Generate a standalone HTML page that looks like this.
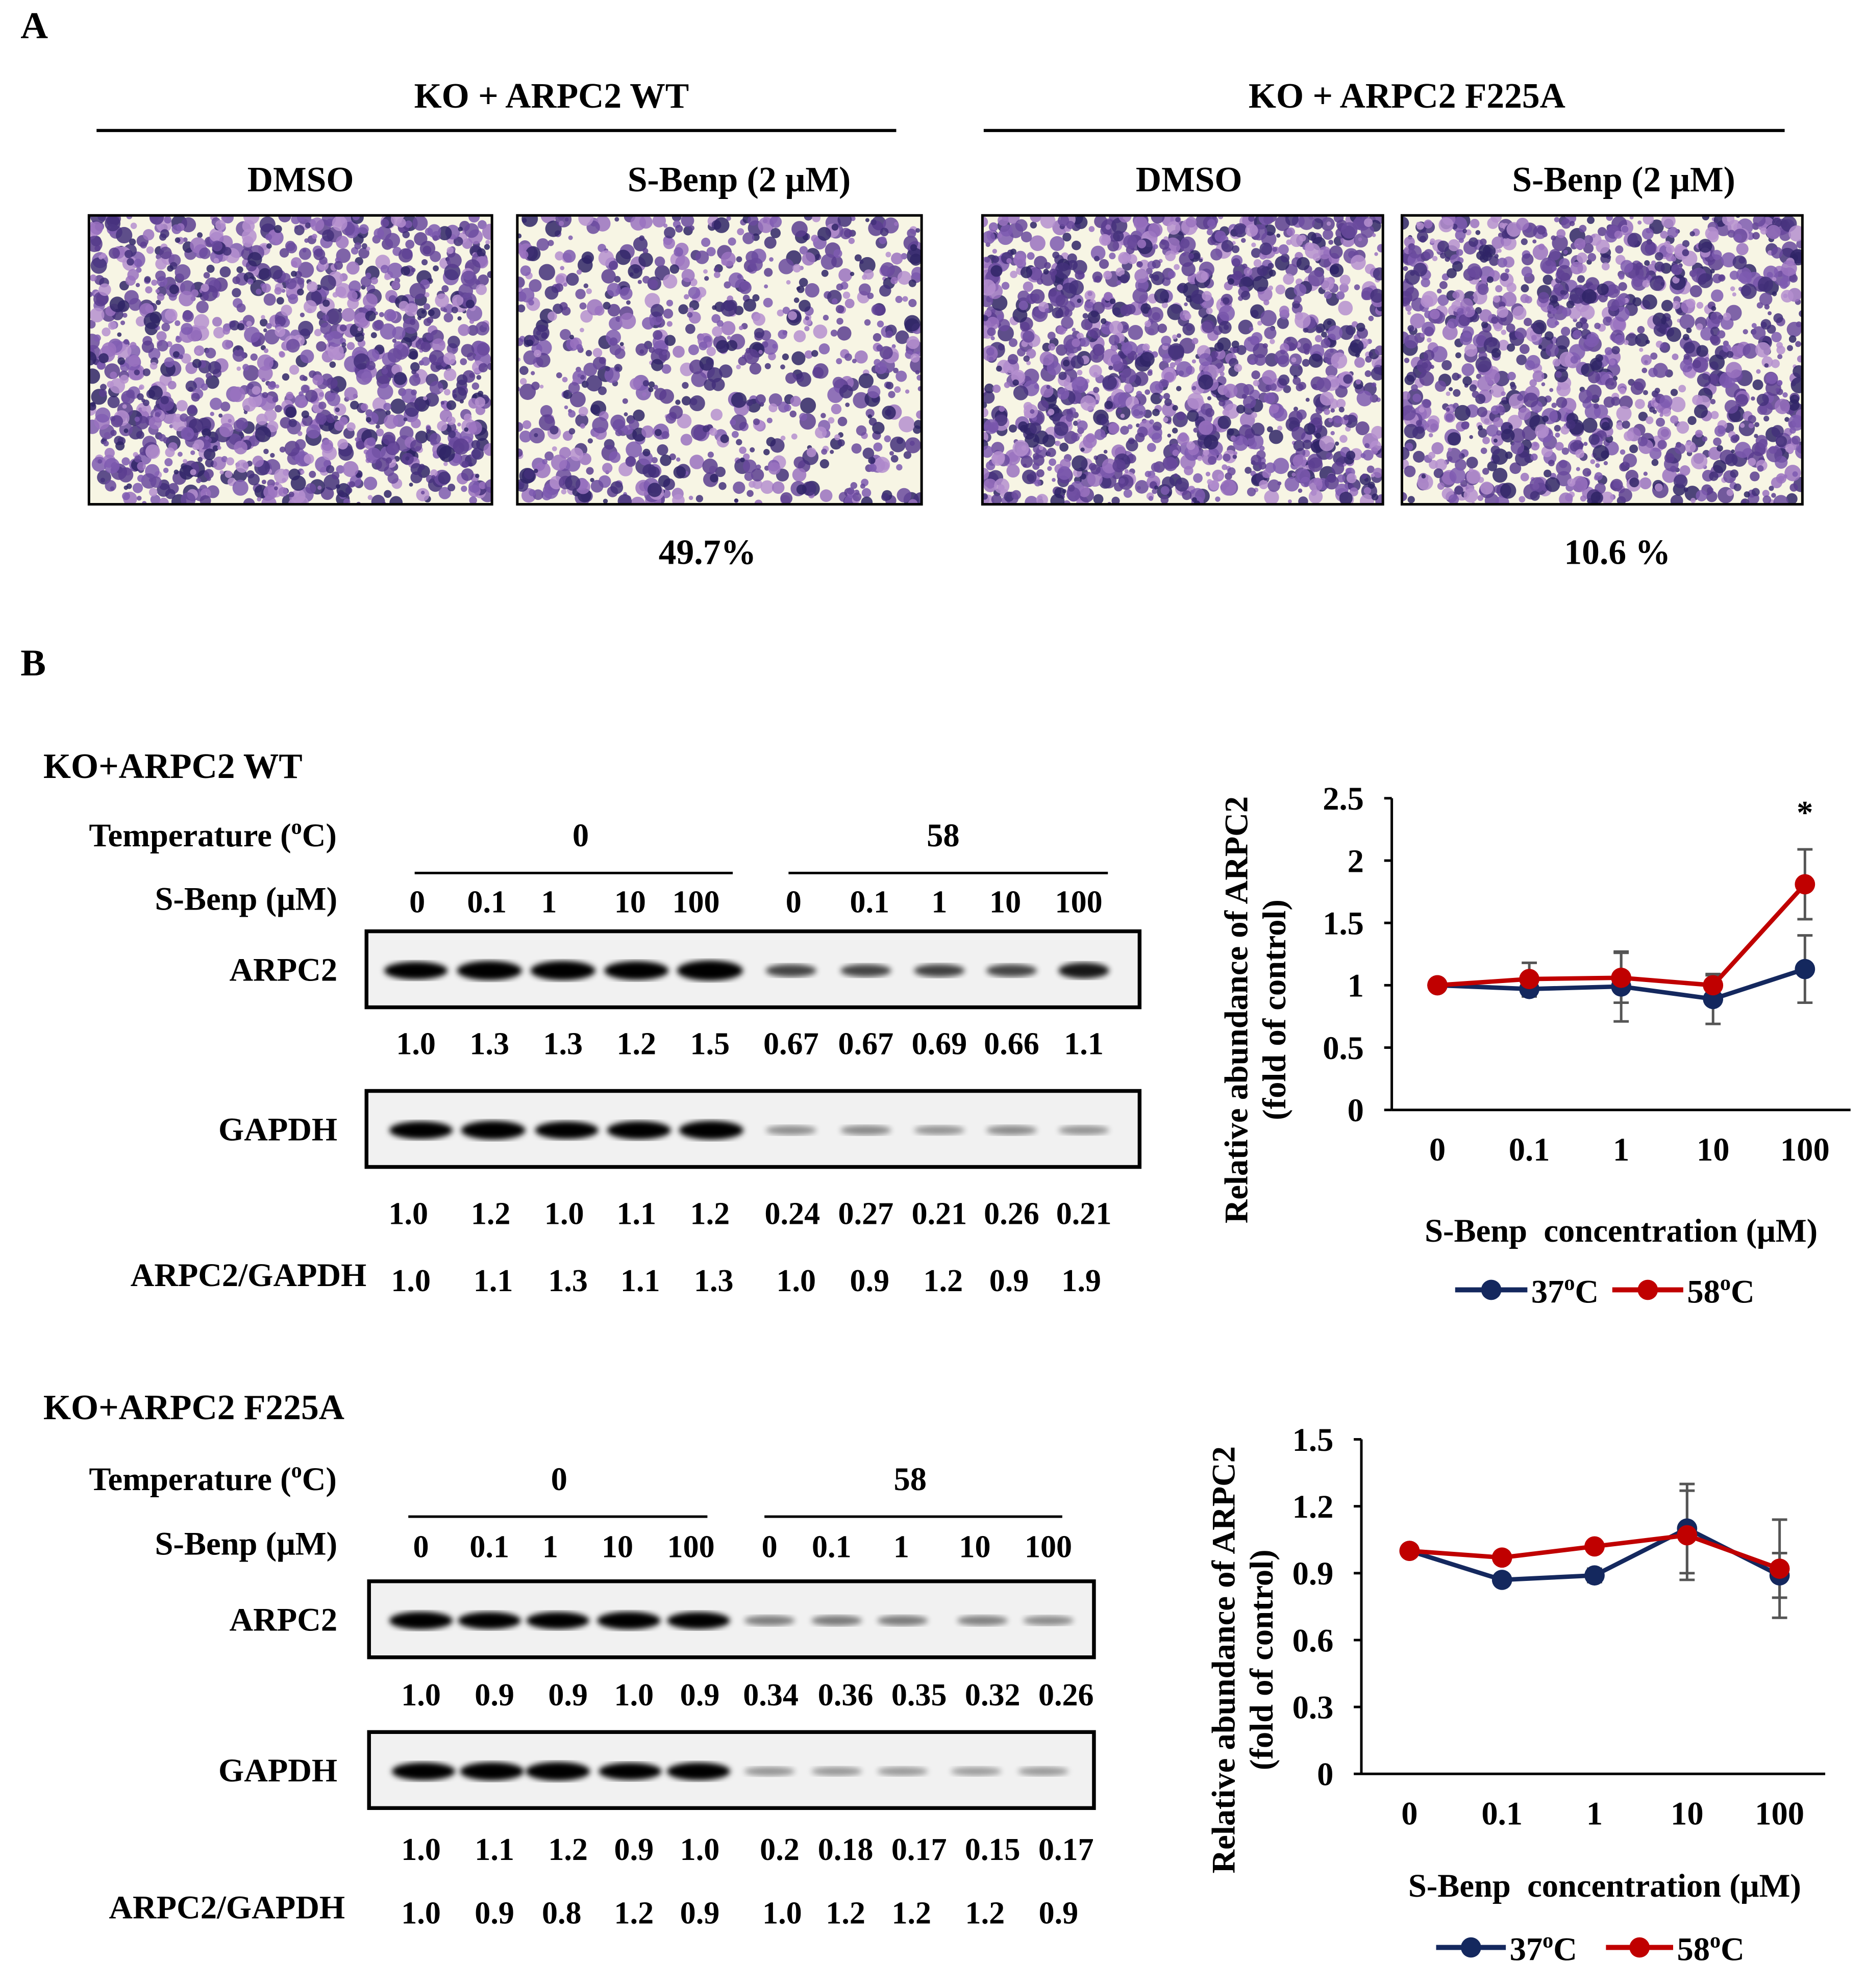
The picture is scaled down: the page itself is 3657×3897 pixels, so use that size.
<!DOCTYPE html>
<html><head><meta charset="utf-8">
<style>
html,body{margin:0;padding:0;background:#fff;}
svg{display:block;}
text{font-family:"Liberation Serif",serif;font-weight:bold;fill:#000;}
</style></head>
<body>
<svg id="fig" xmlns="http://www.w3.org/2000/svg" width="3657" height="3897" viewBox="0 0 1472 1569">
<defs>
<filter id="blur2"><feGaussianBlur stdDeviation="2.2"/></filter>
</defs>
<rect width="1472" height="1569" fill="#fff"/>
<g id="panelA">
<text x="16" y="30" font-size="30">A</text>
<text x="435" y="85" font-size="28" text-anchor="middle">KO + ARPC2 WT</text>
<line x1="76" y1="103" x2="707" y2="103" stroke="#000" stroke-width="2.5"/>
<text x="1110" y="85" font-size="28" text-anchor="middle">KO + ARPC2 F225A</text>
<line x1="776" y1="103" x2="1408" y2="103" stroke="#000" stroke-width="2.5"/>
<text x="237" y="151" font-size="28" text-anchor="middle">DMSO</text>
<text x="583" y="151" font-size="28" text-anchor="middle">S-Benp (2 μM)</text>
<text x="938" y="151" font-size="28" text-anchor="middle">DMSO</text>
<text x="1281" y="151" font-size="28" text-anchor="middle">S-Benp (2 μM)</text>
<g id="micro"></g>
<text x="558" y="445" font-size="28" text-anchor="middle">49.7%</text>
<text x="1276" y="445" font-size="28" text-anchor="middle">10.6 %</text>
</g>
<text x="16" y="533" font-size="30">B</text>
<g id="blots"></g>
<g id="chart1"></g>
<g id="chart2"></g>
</svg>
<script>
// ---- chart data ----
const categories = ["0","0.1","1","10","100"];
const wt37 = [1.00, 0.97, 0.99, 0.89, 1.13];
const wt37Err = [0, 0.06, 0.28, 0.20, 0.27];
const wt58 = [1.00, 1.05, 1.06, 1.00, 1.81];
const wt58Err = [0, 0.13, 0.20, 0.08, 0.28];
const wtTicks = [0, 0.5, 1, 1.5, 2, 2.5];
const wtTickLabels = ["0","0.5","1","1.5","2","2.5"];
const mut37 = [1.00, 0.87, 0.89, 1.10, 0.89];
const mut37Err = [0, 0.0, 0.03, 0.20, 0.10];
const mut58 = [1.00, 0.97, 1.02, 1.07, 0.92];
const mut58Err = [0, 0.0, 0.0, 0.20, 0.22];
const mutTicks = [0, 0.3, 0.6, 0.9, 1.2, 1.5];
const mutTickLabels = ["0","0.3","0.6","0.9","1.2","1.5"];
// blot quantifications
const doses = ["0","0.1","1","10","100","0","0.1","1","10","100"];
const wtArpc2 = ["1.0","1.3","1.3","1.2","1.5","0.67","0.67","0.69","0.66","1.1"];
const wtGapdh = ["1.0","1.2","1.0","1.1","1.2","0.24","0.27","0.21","0.26","0.21"];
const wtRatio = ["1.0","1.1","1.3","1.1","1.3","1.0","0.9","1.2","0.9","1.9"];
const mutArpc2 = ["1.0","0.9","0.9","1.0","0.9","0.34","0.36","0.35","0.32","0.26"];
const mutGapdh = ["1.0","1.1","1.2","0.9","1.0","0.2","0.18","0.17","0.15","0.17"];
const mutRatio = ["1.0","0.9","0.8","1.2","0.9","1.0","1.2","1.2","1.2","0.9"];

const NS="http://www.w3.org/2000/svg";
function mk(tag, attrs, parent){const e=document.createElementNS(NS,tag);for(const k in attrs)e.setAttribute(k,attrs[k]);parent.appendChild(e);return e;}
function txt(parent,x,y,s,size,anchor){const t=mk('text',{x:x,y:y,'font-size':size,'text-anchor':anchor||'middle'},parent);t.textContent=s;return t;}

// ---- micrographs ----
let seed=12345;function rnd(){seed=(seed*1103515245+12345)%2147483648;return seed/2147483648;}
const micro=document.getElementById('micro');
const frames=[[70,170,318,228,0.6],[408,170,319,228,0.38],[775,170,316,228,0.65],[1106,170,316,228,0.6]];
frames.forEach((f,i)=>{
  const g=mk('g',{},micro);
  
  
  const cid='clip'+i;
  const cp=mk('clipPath',{id:cid},g);mk('rect',{x:f[0],y:f[1],width:f[2],height:f[3]},cp);
  const inner=mk('g',{'clip-path':'url(#'+cid+')'},g);
  mk('rect',{x:f[0],y:f[1],width:f[2],height:f[3],fill:'#f7f5e4'},inner);
  const n=Math.round(f[4]*2200);
  const cols=['#6a4a9e','#5b3d8f','#7e5bb0','#43307a','#9a72c0','#2f2566','#b58fcf'];
  for(let k=0;k<n;k++){
    const cx=f[0]+rnd()*f[2],cy=f[1]+rnd()*f[3],r=1.5+rnd()*5;
    mk('circle',{cx:cx,cy:cy,r:r,fill:cols[Math.floor(rnd()*cols.length)],opacity:0.85},inner);
  }
  mk('rect',{x:f[0],y:f[1],width:f[2],height:f[3],fill:'none',stroke:'#000','stroke-width':2},g);
});

// ---- blots ----
const blots=document.getElementById('blots');
function blotSection(o){
  const g=mk('g',{},blots);
  
  
  txt(g,34,o.titleY,o.title,28,'start');
  const tl=txt(g,70,o.tempY,'',26,'start');
  tl.innerHTML='Temperature (<tspan font-size="17" dy="-10">o</tspan><tspan dy="10">C)</tspan>';
  txt(g,o.g0,o.tempY,'0',26);txt(g,o.g58,o.tempY,'58',26);
  mk('line',{x1:o.l0[0],y1:o.tempY+21,x2:o.l0[1],y2:o.tempY+21,stroke:'#000','stroke-width':2},g);
  mk('line',{x1:o.l58[0],y1:o.tempY+21,x2:o.l58[1],y2:o.tempY+21,stroke:'#000','stroke-width':2},g);
  txt(g,o.labR,o.doseY,'S-Benp (μM)',26,'end');
  doses.forEach((d,i)=>txt(g,o.lanes[i],o.doseY+2,d,25));
  [[o.box1,'ARPC2',o.arpc,o.bandA],[o.box2,'GAPDH',o.gap,o.bandG]].forEach(([b,lab,vals,band])=>{
    const bg=mk('g',{},g);
    
    
    mk('rect',{x:b[0],y:b[1],width:b[2]-b[0],height:60,fill:'#f1f1f1'},bg);
    vals.forEach((v,i)=>{
      const val=parseFloat(v);
      const strong=i<5;
      const w=strong?46+val*4:40;
      const h=strong?10+val*4:6+val*6;
      const op=strong?1:Math.min(0.9,0.25+val*0.7);
      mk('ellipse',{cx:band[i],cy:b[1]+31,rx:w/2,ry:h/2,fill:'#000',opacity:op,filter:'url(#blur2)'},bg);
    });
    mk('rect',{x:b[0],y:b[1],width:b[2]-b[0],height:60,fill:'none',stroke:'#000','stroke-width':3},bg);
    txt(g,o.labR,b[1]+39,lab,26,'end');
  });
  o.arpc.forEach((v,i)=>txt(g,o.v1[i],o.v1Y,v,25));
  o.gap.forEach((v,i)=>txt(g,o.v2[i],o.v2Y,v,25));
  txt(g,o.ratioR,o.v3Y-4,'ARPC2/GAPDH',26,'end');
  o.ratio.forEach((v,i)=>txt(g,o.v3[i],o.v3Y,v,25));
}
blotSection({name:'wt-blot-panel',title:'KO+ARPC2 WT',titleY:614,tempY:668,g0:458,g58:744,l0:[327,578],l58:[622,874],
 labR:266,doseY:718,lanes:[329,384,433,497,549,626,686,741,793,851],
 box1:[289,735,899],box2:[289,861,899],arpc:wtArpc2,gap:wtGapdh,ratio:wtRatio,
 bandA:[328,386,444,502,560,624,683,741,798,855],bandG:[332,389,447,504,561,624,683,741,798,855],
 v1:[328,386,444,502,560,624,683,741,798,855],v1Y:832,v2:[322,387,445,502,560,625,683,741,798,855],v2Y:966,
 ratioR:289,v3:[324,389,448,505,563,628,686,744,796,853],v3Y:1019});
blotSection({name:'f225a-blot-panel',title:'KO+ARPC2 F225A',titleY:1120,tempY:1176,g0:441,g58:718,l0:[322,558],l58:[603,838],
 labR:266,doseY:1227,lanes:[332,386,434,487,545,607,656,711,769,827],
 box1:[291,1248,863],box2:[291,1367,863],arpc:mutArpc2,gap:mutGapdh,ratio:mutRatio,
 bandA:[332,386,440,496,551,607,660,712,775,827],bandG:[334,388,440,497,551,607,660,712,770,823],
 v1:[332,390,448,500,552,608,667,725,783,841],v1Y:1346,v2:[332,390,448,500,552,615,667,725,783,841],v2Y:1468,
 ratioR:272,v3:[332,390,443,500,552,617,667,719,777,835],v3Y:1518});

// ---- line charts ----
function lineChart(gid,c){
  const g=document.getElementById(gid);
  const ymax=c.ticks[c.ticks.length-1];
  const yS=v=>c.y0-(v/ymax)*(c.y0-c.yTop);
  const xS=i=>c.xs0+i*c.dx;
  mk('line',{x1:c.ax,y1:c.yTop,x2:c.ax,y2:c.y0,stroke:'#000','stroke-width':2},g);
  mk('line',{x1:c.ax,y1:c.y0,x2:c.xEnd,y2:c.y0,stroke:'#000','stroke-width':2},g);
  c.ticks.forEach((t,i)=>{
    mk('line',{x1:c.ax-6,y1:yS(t),x2:c.ax,y2:yS(t),stroke:'#000','stroke-width':2},g);
    const e=txt(g,c.ax-22,yS(t)+9,c.tickLabels[i],26,'end');
    
    
  });
  categories.forEach((cat,i)=>{
    const e=txt(g,xS(i),c.y0+40,cat,26);
    
    
  });
  const yt=mk('text',{transform:`translate(${c.ytX},${c.ytY}) rotate(-90)`,'font-size':26,'text-anchor':'middle'},g);
  
  
  yt.innerHTML=`<tspan x="0" y="0">Relative abundance of ARPC2</tspan><tspan x="0" y="30">(fold of control)</tspan>`;
  const xt=txt(g,c.xtX,c.xtY,'S-Benp  concentration (μM)',26);
  xt.setAttribute('style','white-space:pre');
  
  
  c.series.forEach(s=>{
    const sg=mk('g',{},g);
    
    
    s.vals.forEach((v,i)=>{
      const e=s.err[i];if(e>0){
        const x=xS(i);
        mk('path',{d:`M${x},${yS(v-e)}V${yS(v+e)}M${x-6},${yS(v-e)}H${x+6}M${x-6},${yS(v+e)}H${x+6}`,stroke:'#555','stroke-width':2,fill:'none'},sg);
      }
    });
  });
  c.series.forEach(s=>{
    const sg=mk('g',{},g);
    
    
    mk('polyline',{points:s.vals.map((v,i)=>xS(i)+','+yS(v)).join(' '),fill:'none',stroke:s.color,'stroke-width':3.5},sg);
    s.vals.forEach((v,i)=>{
      const p=mk('circle',{cx:xS(i),cy:yS(v),r:8,fill:s.color},sg);
      
      
    });
  });
  c.legend.forEach(l=>{
    const lg=mk('g',{},g);
    
    
    mk('line',{x1:l.x1,y1:c.legY,x2:l.x2,y2:c.legY,stroke:l.color,'stroke-width':4},lg);
    mk('circle',{cx:(l.x1+l.x2)/2,cy:c.legY,r:8,fill:l.color},lg);
    const t=txt(lg,l.x2+3,c.legY+10,'',26,'start');
    t.innerHTML=l.label+'<tspan font-size="17" dy="-10">o</tspan><tspan dy="10">C</tspan>';
  });
  if(c.star){const s=txt(g,c.star[0],c.star[1],'*',26);}
}
lineChart('chart1',{ax:1098,yTop:630,y0:876,xEnd:1460,xs0:1134,dx:72.5,ticks:wtTicks,tickLabels:wtTickLabels,
 ytX:984,ytY:797,xtX:1279,xtY:980,legY:1018,
 series:[{key:'37C',vals:wt37,err:wt37Err,color:'#14285e'},{key:'58C',vals:wt58,err:wt58Err,color:'#c00000'}],
 legend:[{x1:1148,x2:1205,color:'#14285e',label:'37'},{x1:1272,x2:1328,color:'#c00000',label:'58'}],star:[1424,650]});
lineChart('chart2',{ax:1074,yTop:1136,y0:1400,xEnd:1440,xs0:1112,dx:73,ticks:mutTicks,tickLabels:mutTickLabels,
 ytX:974,ytY:1310,xtX:1266,xtY:1497,legY:1537,
 series:[{key:'37C',vals:mut37,err:mut37Err,color:'#14285e'},{key:'58C',vals:mut58,err:mut58Err,color:'#c00000'}],
 legend:[{x1:1133,x2:1188,color:'#14285e',label:'37'},{x1:1267,x2:1320,color:'#c00000',label:'58'}]});
</script>
</body></html>
